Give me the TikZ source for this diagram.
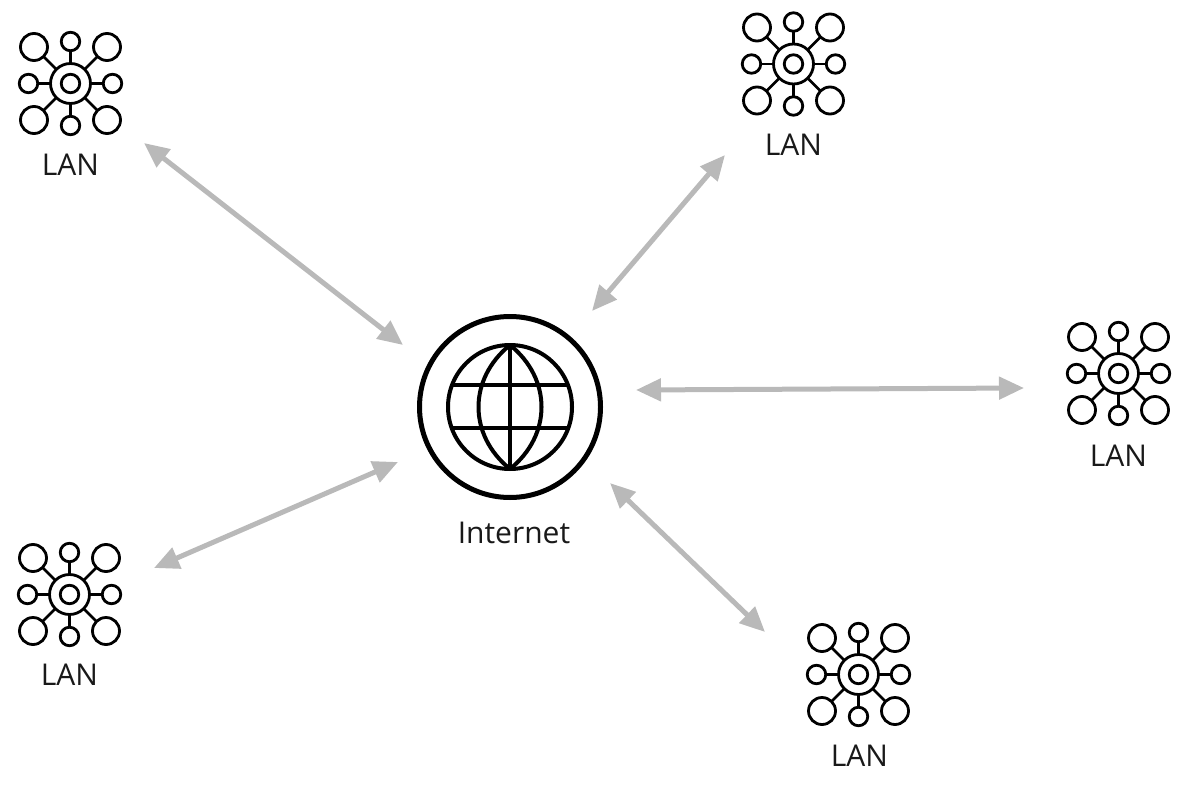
\documentclass[tikz,border=0pt]{standalone}
\usepackage{fontspec}
\setmainfont{Open Sans}
\usepackage{xcolor}
\usepackage{tikz}
\usetikzlibrary{arrows.meta}
\definecolor{linkgray}{HTML}{B9B9B9}

\tikzset{
  ring/.style={draw, circle, line width=2.8pt, inner sep=0pt, outer sep=0pt},
  hub/.style={ring, minimum size=40pt},
  core/.style={ring, minimum size=18.5pt},
  smallsat/.style={ring, minimum size=18.5pt},
  bigsat/.style={ring, minimum size=27pt},
  spoke/.style={line width=2.8pt},
  globeline/.style={line width=4pt},
  link/.style={line width=5pt, draw=linkgray, {Triangle[length=25pt,width=22pt,fill=linkgray]}-{Triangle[length=25pt,width=22pt,fill=linkgray]}},
  caption/.style={font=\fontsize{30}{36}\selectfont, text=black!90, inner sep=0pt},
  lan/.pic={
    \node[hub] (-hub) at (0, 0) {};
    \node[core] (-core) at (0, 0) {};
    \foreach \nm/\dx/\dy in {t/0/-42, b/0/42, l/-42/0, r/42/0} {
      \node[smallsat] (-\nm) at (\dx, \dy) {};
      \draw[spoke] (-hub) -- (-\nm);
    }
    \foreach \nm/\dx/\dy in {tl/-36.5/-36.5, tr/36.5/-36.5, bl/-36.5/36.5, br/36.5/36.5} {
      \node[bigsat] (-\nm) at (\dx, \dy) {};
      \draw[spoke] (-hub) -- (-\nm);
    }
  }
}

\begin{document}
\begin{tikzpicture}[x=1pt, y=-1pt]
\useasboundingbox (0, 0) rectangle (1183, 789);

% lan icons
\pic (lanA) at (70.5, 83.5) {lan};
\pic (lanB) at (793.5, 64) {lan};
\pic (lanC) at (1118.5, 373.5) {lan};
\pic (lanD) at (69.5, 594.5) {lan};
\pic (lanE) at (858.5, 674.5) {lan};

\node[caption] (capA) at (70.5, 165) {LAN};
\node[caption] (capB) at (793.5, 145) {LAN};
\node[caption] (capC) at (1118.5, 456) {LAN};
\node[caption] (capD) at (69.5, 675) {LAN};
\node[caption] (capE) at (859.5, 756) {LAN};

% internet globe
\node[ring, line width=5pt, minimum size=181pt] (inet) at (510, 407) {};
\node[ring, globeline, minimum size=124pt] (globe) at (510, 407) {};
\coordinate (gT) at (510, 345);
\coordinate (gB) at (510, 469);
\draw[globeline] (gT) -- (gB);
\draw[globeline] (gT) .. controls (468, 379) and (468, 435) .. (gB);
\draw[globeline] (gT) .. controls (552, 379) and (552, 435) .. (gB);
\draw[globeline] (451, 385) -- (569, 385);
\draw[globeline] (451, 428) -- (569, 428);
\node[caption] (capI) at (514, 533) {Internet};

% free ends of the links
\coordinate (endA) at (144, 143);
\coordinate (hubA) at (403, 345);
\coordinate (endB) at (725, 155);
\coordinate (hubB) at (592, 311);
\coordinate (endC) at (1024, 388);
\coordinate (hubC) at (636, 390);
\coordinate (endD) at (154, 568);
\coordinate (hubD) at (398, 462);
\coordinate (endE) at (765, 632);
\coordinate (hubE) at (610, 483);

\draw[link] (endA) -- (hubA);
\draw[link] (endB) -- (hubB);
\draw[link] (endC) -- (hubC);
\draw[link] (endD) -- (hubD);
\draw[link] (endE) -- (hubE);
\end{tikzpicture}
\end{document}
